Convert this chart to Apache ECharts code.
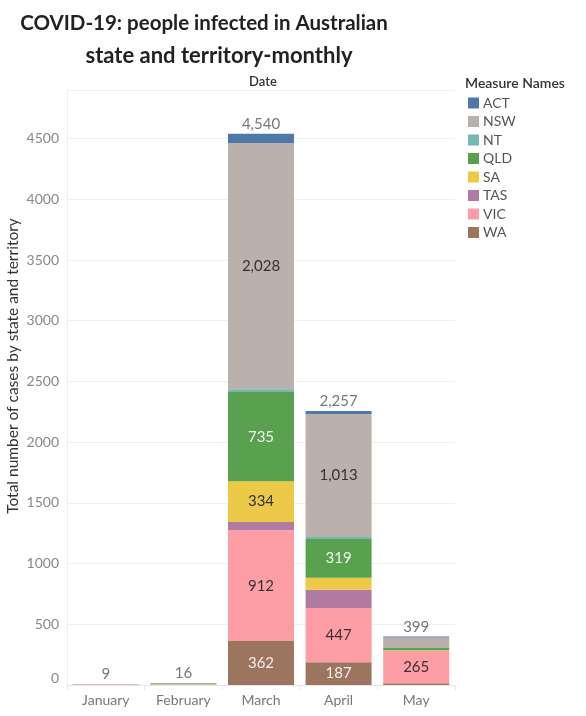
<!DOCTYPE html>
<html><head><meta charset="utf-8">
<script src="https://cdn.jsdelivr.net/npm/echarts@6/dist/echarts.min.js"></script>
<style>html,body{margin:0;padding:0;background:#fff}#c{width:586px;height:716px}</style>
</head><body><div id="c"></div>
<script>
var months = ['January','February','March','April','May'];
var legendOrder = ['ACT','NSW','NT','QLD','SA','TAS','VIC','WA'];
// stacked from bottom to top
var WA  = [0, 0, 362, 187, 15];
var VIC = [4, 5, 912, 447, 265];
var TAS = [0, 0, 69, 150, 3];
var SA  = [0, 2, 334, 100, 4];
var QLD = [1, 7, 735, 319, 18];
var NT  = [0, 0, 24, 15, 0];
var NSW = [4, 2, 2028, 1013, 86];
var ACT = [0, 0, 76, 26, 8];

var yMax = 4900, yInterval = 500;

var stackSeries = [
  {name:'WA', data:WA, color:'#9c755f', lc:'#f2eee9'},
  {name:'VIC', data:VIC, color:'#ff9da7', lc:'#333333'},
  {name:'TAS', data:TAS, color:'#b07aa1', lc:'#ffffff'},
  {name:'SA', data:SA, color:'#edc948', lc:'#333333'},
  {name:'QLD', data:QLD, color:'#59a14f', lc:'#eef5ec'},
  {name:'NT', data:NT, color:'#76b7b2', lc:'#333333'},
  {name:'NSW', data:NSW, color:'#bab0ac', lc:'#333333'},
  {name:'ACT', data:ACT, color:'#4e79a7', lc:'#ffffff'}
];
var totals = months.map(function(m,i){
  return stackSeries.reduce(function(s,ser){return s+ser.data[i];},0);
});
function fmt(v){return v.toString().replace(/\B(?=(\d{3})+(?!\d))/g, ',');}

var FONT = 'Lato';
var series = stackSeries.map(function(s){
  return {
    name:s.name, type:'bar', stack:'all', data:s.data, barWidth:66,
    itemStyle:{color:s.color},
    label:{show:true, position:'inside', fontFamily:FONT, fontSize:15, color:s.lc,
      formatter:function(p){return p.value>=180?fmt(p.value):'';}}
  };
});
series.push({
  name:'Total', type:'bar', stack:'all', data:totals.map(function(){return 0;}),
  barWidth:66, itemStyle:{color:'transparent'},
  label:{show:true, position:'top', distance:2, fontFamily:FONT, fontSize:15, color:'#777',
    formatter:function(p){return fmt(totals[p.dataIndex]);}}
});

var chart = echarts.init(document.getElementById('c'));
chart.setOption({
  animation:false,
  textStyle:{fontFamily:FONT},
  color:stackSeries.map(function(s){return s.color;}),
  grid:{left:67, right:131, top:90, bottom:31},
  legend:{
    data:legendOrder, orient:'vertical', left:463, top:91,
    itemWidth:11, itemHeight:11, itemGap:4.5, icon:'rect',
    textStyle:{fontFamily:FONT, fontSize:14, color:'#555', padding:[0,0,0,-1]}
  },
  graphic:[
    {type:'text', style:{x:204, y:23, text:'COVID-19: people infected in Australian', font:'bold 20.5px Lato', fill:'#222', textAlign:'center', textVerticalAlign:'middle'}},
    {type:'text', style:{x:219, y:56, text:'state and territory-monthly', font:'bold 22px Lato', fill:'#222', textAlign:'center', textVerticalAlign:'middle'}},
    {type:'text', style:{x:263, y:82, text:'Date', font:'600 13px Lato', fill:'#333', textAlign:'center', textVerticalAlign:'middle'}},
    {type:'text', style:{x:465, y:83, text:'Measure Names', font:'600 14px Lato', fill:'#333', textAlign:'left', textVerticalAlign:'middle'}},
    {type:'text', rotation:Math.PI/2, x:13, y:366, style:{x:0, y:0, text:'Total number of cases by state and territory', font:'15.5px Lato', fill:'#333', textAlign:'center', textVerticalAlign:'middle'}}
  ],
  xAxis:{
    type:'category', data:months,
    axisLine:{lineStyle:{color:'#e6e6e6'}},
    axisTick:{show:true, lineStyle:{color:'#e6e6e6'}},
    axisLabel:{fontFamily:FONT, fontSize:14, color:'#777', margin:8}
  },
  yAxis:{
    type:'value', min:0, max:yMax, interval:yInterval,
    axisLine:{show:true, lineStyle:{color:'#f0f0f0'}},
    axisTick:{show:false},
    axisLabel:{fontFamily:FONT, fontSize:14, color:'#888', showMaxLabel:false, margin:8,
      verticalAlignMinLabel:'bottom',
      formatter:function(v){return String(v);}},
    splitLine:{lineStyle:{color:'#f0f0f0'}}
  },
  series:series
});
</script></body></html>
